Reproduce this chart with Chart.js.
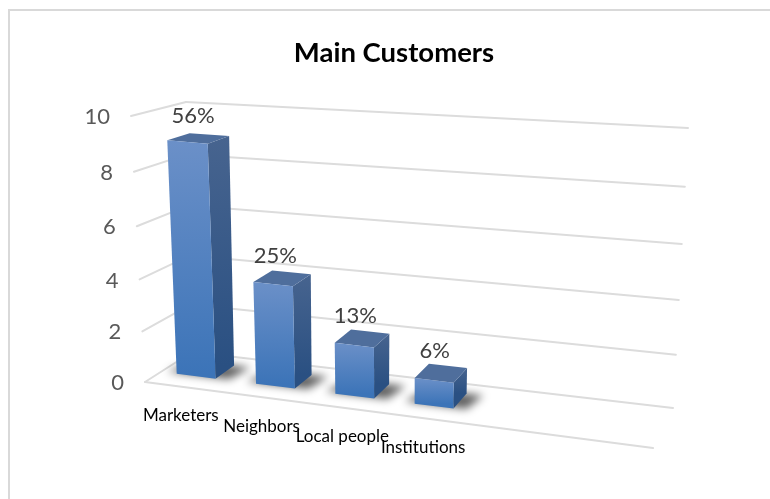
<!DOCTYPE html>
<html>
<head>
<meta charset="utf-8">
<title>Main Customers</title>
<script src="https://cdn.jsdelivr.net/npm/chart.js@4"></script>
<style>
  html, body { margin: 0; padding: 0; background: #fff; overflow: hidden; }
  #wrap { position: relative; width: 770px; height: 499px; overflow: hidden; }
  #frame { position: absolute; left: 8px; top: 9px; width: 780px; height: 500px;
           border-left: 2px solid #d9d9d9; border-top: 2px solid #d9d9d9; box-sizing: border-box; }
  #chart { position: absolute; left: 0; top: 0; }
</style>
</head>
<body>
<div id="wrap">
  <div id="frame"></div>
  <canvas id="chart" width="770" height="499"></canvas>
</div>
<script>
'use strict';

/* ----------------------------------------------------------
   DATA
   The two blank categories leave the empty run on the right.
---------------------------------------------------------- */
const categories = ['Marketers', 'Neighbors', 'Local people', 'Institutions', '', ''];
const customers  = [9, 4, 2, 1, null, null];
const axisTicks  = [0, 2, 4, 6, 8, 10];

/* ----------------------------------------------------------
   3D BOX
   Screen corners of the plot box. project() blends them, so
   anything given as (across, up, depth) in 0..1 lands in it.
---------------------------------------------------------- */
const BOX = {
  frontBottomLeft:  [145, 382], frontBottomRight: [653, 448],
  frontTopLeft:     [131, 116], frontTopRight:    [663, 170],
  backBottomLeft:   [192, 352], backBottomRight:  [673, 408],
  backTopLeft:      [186, 102], backTopRight:     [688, 128],
};
const ROW_SQUEEZE = 0.954;
const ROW_SHIFT = -0.009;
const BAR_FRONT = 0.34;
const BAR_BACK  = 0.76;
/* Upper part of the walls is a little foreshortened */
const FORESHORTEN = 0.06;

const mix = (a, b, t) => [a[0] + (b[0] - a[0]) * t, a[1] + (b[1] - a[1]) * t];

function project(u, v, d) {
  const rise = v - FORESHORTEN * v * (1 - v);
  const fb = mix(BOX.frontBottomLeft, BOX.frontBottomRight, u);
  const ft = mix(BOX.frontTopLeft, BOX.frontTopRight, u);
  const bb = mix(BOX.backBottomLeft, BOX.backBottomRight, u);
  const bt = mix(BOX.backTopLeft, BOX.backTopRight, u);
  return mix(mix(fb, ft, rise), mix(bb, bt, rise), d);
}

/* Scale pixels -> box fractions */
const acrossOf = (chart, px) => (px - chart.chartArea.left) / chart.chartArea.width * ROW_SQUEEZE + ROW_SHIFT;
const upOf = (chart, py) => (chart.chartArea.bottom - py) / chart.chartArea.height;

function polygon(ctx, points) {
  ctx.beginPath();
  points.forEach((p, i) => (i ? ctx.lineTo(p[0], p[1]) : ctx.moveTo(p[0], p[1])));
  ctx.closePath();
}

function line(ctx, a, b) {
  ctx.beginPath();
  ctx.moveTo(a[0], a[1]);
  ctx.lineTo(b[0], b[1]);
  ctx.stroke();
}

/* ----------------------------------------------------------
   WALLS: grid lines, floor and tick labels, from the y scale
---------------------------------------------------------- */
const wallsPlugin = {
  id: 'walls',
  beforeDatasetsDraw(chart) {
    const { ctx, scales: { y } } = chart;
    ctx.save();
    ctx.strokeStyle = '#dcdcdc';
    ctx.lineWidth = 2;
    ctx.lineCap = 'round';
    y.ticks.forEach(tick => {
      const v = upOf(chart, y.getPixelForValue(tick.value));
      line(ctx, project(0, v, 0), project(0, v, 1));
      line(ctx, project(0, v, 1), project(1, v, 1));

      const at = project(0, v, 0);
      ctx.fillStyle = '#595959';
      ctx.font = '22px Lato';
      ctx.textAlign = 'right';
      ctx.textBaseline = 'middle';
      ctx.fillText(String(tick.value), at[0] - 21, at[1] + 1);
    });
    line(ctx, project(0, 0, 0), project(1, 0, 0));
    ctx.restore();
  },
};

/* ----------------------------------------------------------
   BARS: native rectangles are replaced by projected boxes
---------------------------------------------------------- */
const boxBarsPlugin = {
  id: 'boxBars',
  beforeDatasetDraw(chart, args) {
    const { ctx } = chart;
    const meta = args.meta;
    const total = customers.reduce((sum, n) => sum + (n || 0), 0);

    meta.data.forEach((bar, i) => {
      if (customers[i] === null) return;
      const u0 = acrossOf(chart, bar.x - bar.width / 2);
      const u1 = acrossOf(chart, bar.x + bar.width / 2);
      const v  = upOf(chart, bar.y);

      const P = project;

      /* soft shadow on the floor */
      ctx.save();
      ctx.filter = 'blur(4px)';
      ctx.fillStyle = 'rgba(0,0,0,0.62)';
      polygon(ctx, [P(u0 - 0.022, 0, BAR_FRONT + 0.03), P(u1 + 0.024, 0, BAR_FRONT + 0.03),
                    P(u1 + 0.034, 0, BAR_BACK), P(u0, 0, BAR_BACK)]);
      ctx.fill();
      ctx.restore();

      /* side face */
      const sideTop = P(u1, v, BAR_BACK);
      const sideBottom = P(u1, 0, BAR_BACK);
      const sideFill = ctx.createLinearGradient(0, sideTop[1], 0, sideBottom[1]);
      sideFill.addColorStop(0, '#47648F');
      sideFill.addColorStop(1, '#2A5082');
      ctx.fillStyle = sideFill;
      polygon(ctx, [P(u1, 0, BAR_FRONT), sideBottom, sideTop, P(u1, v, BAR_FRONT)]);
      ctx.fill();

      /* top face */
      ctx.fillStyle = '#4F6E9C';
      polygon(ctx, [P(u0, v, BAR_FRONT), P(u1, v, BAR_FRONT), P(u1, v, BAR_BACK), P(u0, v, BAR_BACK)]);
      ctx.fill();

      /* front face */
      const frontTop = P(u0, v, BAR_FRONT);
      const frontBottom = P(u0, 0, BAR_FRONT);
      const frontFill = ctx.createLinearGradient(0, frontTop[1], 0, frontBottom[1]);
      frontFill.addColorStop(0, '#6B90C8');
      frontFill.addColorStop(1, '#3C74B8');
      ctx.fillStyle = frontFill;
      polygon(ctx, [frontBottom, P(u1, 0, BAR_FRONT), P(u1, v, BAR_FRONT), frontTop]);
      ctx.fill();

      /* share of the total above the bar; taller bars push it further back */
      const labelX = P((u0 + u1) / 2, v, BAR_FRONT + 0.12 * v)[0];
      const labelY = P((u0 + u1) / 2, v, BAR_BACK)[1];
      ctx.fillStyle = '#404040';
      ctx.font = '22px Lato';
      ctx.textAlign = 'center';
      ctx.textBaseline = 'alphabetic';
      ctx.fillText(Math.round(customers[i] / total * 100) + '%', labelX, labelY - 7.5 - 5 * v);
    });
    return false;
  },
  afterDatasetsDraw(chart) {
    const { ctx, scales: { x } } = chart;
    ctx.save();
    ctx.fillStyle = '#000';
    ctx.font = '17px Lato';
    ctx.textAlign = 'center';
    ctx.textBaseline = 'middle';
    categories.forEach((name, i) => {
      const at = project(acrossOf(chart, x.getPixelForValue(i)), 0, 0);
      ctx.fillText(name, at[0], at[1] + 29);
    });
    ctx.restore();
  },
};

/* ----------------------------------------------------------
   CHART
---------------------------------------------------------- */
new Chart(document.getElementById('chart'), {
  type: 'bar',
  data: {
    labels: categories,
    datasets: [{ data: customers, categoryPercentage: 1, barPercentage: 0.49, backgroundColor: '#4472c4' }],
  },
  options: {
    responsive: false,
    animation: false,
    layout: { padding: { left: 18, right: 0, top: 0, bottom: 10 } },
    plugins: {
      legend: { display: false },
      tooltip: { enabled: false },
      title: {
        display: true,
        text: 'Main Customers',
        color: '#000',
        font: { family: 'Lato', size: 27.5, weight: 'bold' },
        padding: { top: 37, bottom: 10 },
      },
    },
    scales: {
      x: { grid: { display: false }, border: { display: false }, ticks: { display: false } },
      y: {
        min: axisTicks[0],
        max: axisTicks[axisTicks.length - 1],
        afterBuildTicks(scale) { scale.ticks = axisTicks.map(value => ({ value })); },
        grid: { display: false },
        border: { display: false },
        ticks: { display: false },
      },
    },
  },
  plugins: [wallsPlugin, boxBarsPlugin],
});
</script>
</body>
</html>
